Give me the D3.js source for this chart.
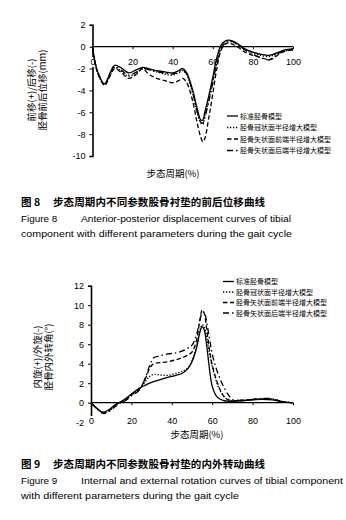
<!DOCTYPE html>
<html>
<head>
<meta charset="utf-8">
<script src="https://cdn.jsdelivr.net/npm/d3@7"></script>
<style>
  body { margin: 0; background: #fff; }
  svg { display: block; }
  text { font-family: "Liberation Sans", Arial, sans-serif; fill: #000; }
  .cjk { font-family: "Noto Sans CJK SC", sans-serif; }
</style>
</head>
<body>
<script>
let w = 346;
let h = 520;

// legend names (shared by both figures)
let names = ["标准胫骨模型", "胫骨冠状面半径增大模型", "胫骨矢状面前端半径增大模型", "胫骨矢状面后端半径增大模型"];
let dashes = [null, "1.3,1.7", "4.5,2.5", "6,3,1.5,3"];

// Figure 8: anterior-posterior displacement (mm)
let x8 = [0, 1, 3, 6, 9, 11, 14, 18, 22, 25, 28, 32, 36, 40, 43, 45, 47, 50, 52, 54, 55, 56, 58, 60, 62, 64, 66, 68, 70, 73, 76, 80, 84, 88, 90, 93, 96, 100];
let ap_standard = [0, -1.2, -2.5, -3.4, -2.3, -1.7, -1.9, -2.4, -2.1, -1.9, -2.0, -2.2, -2.3, -2.4, -2.2, -2.0, -2.4, -4.0, -5.5, -6.7, -6.7, -6.0, -4.5, -2.8, -1.0, 0.1, 0.5, 0.6, 0.5, 0.2, -0.2, -0.5, -0.7, -0.8, -0.7, -0.5, -0.3, -0.2];
let ap_coronal = [0, -1.2, -2.6, -3.5, -2.5, -1.9, -2.2, -2.7, -2.4, -2.0, -2.1, -2.3, -2.5, -2.6, -2.4, -2.2, -2.6, -4.3, -5.9, -7.0, -7.1, -6.4, -4.9, -3.2, -1.4, -0.2, 0.3, 0.45, 0.4, 0.1, -0.3, -0.6, -0.8, -0.9, -0.8, -0.6, -0.4, -0.3];
let ap_anterior = [0, -1.3, -2.6, -3.5, -2.6, -2.0, -2.3, -2.9, -2.5, -2.0, -2.5, -2.9, -3.1, -3.3, -3.1, -2.9, -3.3, -5.0, -6.8, -8.3, -8.7, -8.4, -6.5, -4.3, -2.0, -0.4, 0.2, 0.35, 0.2, -0.1, -0.5, -0.8, -1.0, -1.2, -1.1, -0.7, -0.4, -0.3];
let ap_posterior = [0, -1.2, -2.5, -3.4, -2.4, -1.8, -2.1, -2.6, -2.3, -2.0, -2.1, -2.3, -2.4, -2.5, -2.3, -2.1, -2.5, -4.2, -5.8, -6.9, -7.0, -6.5, -5.0, -3.3, -1.5, -0.2, 0.35, 0.55, 0.45, 0.1, -0.3, -0.7, -1.0, -1.2, -1.0, -0.6, -0.3, -0.2];
let ticks8x = [0, 20, 40, 60, 80, 100];
let ticks8y = [2, 0, -2, -4, -6, -8, -10];

// Figure 9: internal/external rotation (°)
let x9 = [0, 3, 6, 9, 12, 14, 17, 20, 24, 27, 29, 31, 34, 38, 42, 45, 48, 50, 52, 54, 55, 56, 57, 58, 59, 60, 62, 64, 66, 68, 70, 75, 80, 85, 90, 95, 100];
let rot_standard = [0, -0.6, -1.0, -0.7, -0.2, 0, 0.4, 0.9, 1.5, 1.8, 2.0, 2.15, 2.35, 2.6, 2.8, 3.0, 3.5, 4.2, 5.4, 7.3, 7.8, 7.5, 6.3, 4.6, 2.9, 1.7, 0.7, 0.35, 0.2, 0.15, 0.15, 0.2, 0.3, 0.35, 0.3, 0.05, 0];
let rot_coronal = [0, -0.6, -1.0, -0.8, -0.3, 0, 0.3, 0.8, 1.4, 2.2, 2.7, 2.9, 2.85, 2.8, 3.0, 3.2, 3.6, 4.3, 5.6, 7.4, 8.0, 7.8, 7.0, 5.8, 4.7, 3.7, 2.2, 1.2, 0.6, 0.3, 0.2, 0.2, 0.3, 0.35, 0.35, 0.1, 0];
let rot_anterior = [0, -0.6, -1.0, -0.8, -0.3, 0, 0.3, 0.8, 1.4, 2.5, 3.5, 4.0, 4.1, 4.2, 4.4, 4.6, 4.9, 5.2, 6.2, 8.6, 9.5, 9.2, 8.0, 6.4, 5.0, 3.9, 2.4, 1.3, 0.6, 0.3, 0.2, 0.25, 0.35, 0.4, 0.35, 0.1, 0];
let rot_posterior = [0, -0.6, -1.1, -0.9, -0.4, -0.1, 0.2, 0.7, 1.3, 2.6, 3.8, 4.6, 4.8, 5.0, 5.1, 5.3, 5.6, 5.9, 6.8, 8.5, 9.2, 9.3, 8.6, 7.4, 6.2, 5.0, 3.5, 2.4, 1.5, 0.8, 0.35, 0.25, 0.35, 0.45, 0.4, 0.1, 0];
let ticks9x = [0, 20, 40, 60, 80, 100];
let ticks9y = [12, 10, 8, 6, 4, 2, 0, -2];

let svg = d3.select("body").append("svg")
    .attr("width", w)
    .attr("height", h);

function drawChart(cfg) {
    let xScale = d3.scaleLinear().domain([0, 100]).range(cfg.xr);
    let yScale = d3.scaleLinear().domain(cfg.yd).range(cfg.yr);
    let g = svg.append("g");

    //y axis
    let yAxis = d3.axisLeft(yScale).tickValues(cfg.yt).tickSize(3).tickPadding(4)
        .tickFormat(d => d < 0 ? "-" + Math.abs(d) : d);
    let ya = g.append("g")
        .attr("transform", "translate(" + cfg.xr[0] + ",0)")
        .call(yAxis);
    ya.select(".domain").attr("stroke-width", 1.6);
    ya.selectAll("text").attr("font-size", 9);

    //x axis sitting on the zero line
    let xAxis = d3.axisBottom(xScale).tickValues(cfg.xt).tickSize(2.5).tickPadding(cfg.xpad);
    let xa = g.append("g")
        .attr("transform", "translate(0," + yScale(0) + ")")
        .call(xAxis);
    xa.select(".domain").attr("stroke-width", 1.2).attr("d", "M" + cfg.xr[0] + ",0H" + cfg.xr[1]);
    xa.selectAll("text").attr("font-size", 9)
        .attr("stroke", "#fff").attr("stroke-width", 4).attr("paint-order", "stroke");
    xa.raise();

    let line = d3.line()
        .x((d, i) => xScale(cfg.x[i]))
        .y(d => yScale(d))
        .curve(d3.curveCatmullRom);

    let curves = g.append("g");
    cfg.series.forEach(function(s, i) {
        curves.append("path")
            .attr("d", line(s))
            .attr("fill", "none")
            .attr("stroke", "#000")
            .attr("stroke-width", 1.3)
            .attr("stroke-dasharray", dashes[i]);
    });
    if (cfg.curvesBelowAxis) curves.lower();

    //legend
    let lg = g.append("g").attr("transform", "translate(" + cfg.leg[0] + "," + cfg.leg[1] + ")");
    names.forEach(function(n, i) {
        lg.append("line")
            .attr("x1", 0).attr("x2", 11)
            .attr("y1", i * cfg.legStep).attr("y2", i * cfg.legStep)
            .attr("stroke", "#000").attr("stroke-width", 1.3)
            .attr("stroke-dasharray", dashes[i]);
        lg.append("text")
            .attr("class", "cjk")
            .attr("x", 13).attr("y", i * cfg.legStep + 2.5)
            .attr("font-size", 7)
            .text(n);
    });

    //axis titles
    let yt = g.append("text")
        .attr("class", "cjk")
        .attr("transform", "translate(" + cfg.ytitle[0] + "," + cfg.ytitle[1] + ") rotate(-90)")
        .attr("text-anchor", "middle")
        .attr("font-size", 9.5);
    yt.append("tspan").attr("x", 0).attr("dy", 0).text(cfg.ylab[0]);
    yt.append("tspan").attr("x", 0).attr("dy", 11).text(cfg.ylab[1]);

    g.append("text")
        .attr("class", "cjk")
        .attr("x", cfg.xtitle[0]).attr("y", cfg.xtitle[1])
        .attr("text-anchor", "middle")
        .attr("font-size", 9.5)
        .text("步态周期(%)");

    //caption
    g.append("text")
        .attr("class", "cjk")
        .attr("x", 21).attr("y", cfg.cap)
        .attr("font-size", 10.5).attr("font-weight", "bold")
        .text(cfg.capCn[0]);
    g.append("text")
        .attr("class", "cjk")
        .attr("x", 53).attr("y", cfg.cap)
        .attr("font-size", 10.5).attr("font-weight", "bold")
        .attr("textLength", 212).attr("lengthAdjust", "spacing")
        .text(cfg.capCn[1]);
    g.append("text")
        .attr("x", 21).attr("y", cfg.cap + 16)
        .attr("font-size", 9.9)
        .text(cfg.figLabel);
    cfg.capEn.forEach(function(t, i) {
        g.append("text")
            .attr("x", t.x).attr("y", cfg.cap + 16 + i * 14.5)
            .attr("font-size", 9.9)
            .attr("textLength", t.len).attr("lengthAdjust", "spacingAndGlyphs")
            .text(t.s);
    });
}

drawChart({
    x: x8,
    series: [ap_standard, ap_coronal, ap_anterior, ap_posterior],
    xr: [92.5, 293], yd: [-10, 2], yr: [156, 24.8],
    xt: ticks8x, yt: ticks8y, xpad: 9,
    leg: [227, 116], legStep: 11.5,
    ytitle: [35, 90], ylab: ["前移(+)/后移(-)", "胫骨前后位移(mm)"],
    xtitle: [173, 177],
    cap: 206,
    capCn: ["图 8", "步态周期内不同参数股骨衬垫的前后位移曲线"],
    figLabel: "Figure 8",
    capEn: [{s: "Anterior-posterior displacement curves of tibial", x: 81, len: 210},
            {s: "component with different parameters during the gait cycle", x: 21, len: 271}]
});

drawChart({
    x: x9,
    series: [rot_standard, rot_coronal, rot_anterior, rot_posterior],
    xr: [91, 293], yd: [-2, 12], yr: [422.2, 285.7],
    xt: ticks9x, yt: ticks9y, xpad: 12, curvesBelowAxis: true,
    leg: [223, 281.5], legStep: 10.5,
    ytitle: [41, 357], ylab: ["内旋(+)/外旋(-)", "胫骨内外转角(°)"],
    xtitle: [197, 438],
    cap: 468,
    capCn: ["图 9", "步态周期内不同参数股骨衬垫的内外转动曲线"],
    figLabel: "Figure 9",
    capEn: [{s: "Internal and external rotation curves of tibial component", x: 81, len: 262},
            {s: "with different parameters during the gait cycle", x: 21, len: 218}]
});
</script>
</body>
</html>
